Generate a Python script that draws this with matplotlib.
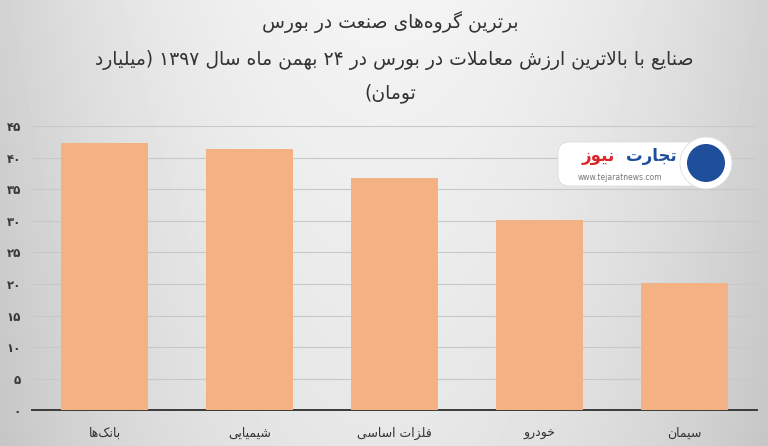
import re

import matplotlib.pyplot as plt
import numpy as np
from matplotlib.patches import Circle, FancyBboxPatch

# data (billion toman)
categories = ["بانک‌ها", "شیمیایی", "فلزات اساسی", "خودرو", "سیمان"]
values = [42.4, 41.4, 36.8, 30.2, 20.2]
yticks = [0, 5, 10, 15, 20, 25, 30, 35, 40, 45]

title = "برترین گروه‌های صنعت در بورس"
subtitle_1 = "صنایع با بالاترین ارزش معاملات در بورس در ۲۴ بهمن ماه سال ۱۳۹۷ (میلیارد"
subtitle_2 = "تومان)"

# minimal Arabic/Persian shaping: (isolated, final, initial, medial)
FORMS = {
    "ا": ("\uFE8D", "\uFE8E", None, None),
    "ب": ("\uFE8F", "\uFE90", "\uFE91", "\uFE92"),
    "ت": ("\uFE95", "\uFE96", "\uFE97", "\uFE98"),
    "ج": ("\uFE9D", "\uFE9E", "\uFE9F", "\uFEA0"),
    "خ": ("\uFEA5", "\uFEA6", "\uFEA7", "\uFEA8"),
    "د": ("\uFEA9", "\uFEAA", None, None),
    "ر": ("\uFEAD", "\uFEAE", None, None),
    "ز": ("\uFEAF", "\uFEB0", None, None),
    "س": ("\uFEB1", "\uFEB2", "\uFEB3", "\uFEB4"),
    "ش": ("\uFEB5", "\uFEB6", "\uFEB7", "\uFEB8"),
    "ص": ("\uFEB9", "\uFEBA", "\uFEBB", "\uFEBC"),
    "ع": ("\uFEC9", "\uFECA", "\uFECB", "\uFECC"),
    "ف": ("\uFED1", "\uFED2", "\uFED3", "\uFED4"),
    "ل": ("\uFEDD", "\uFEDE", "\uFEDF", "\uFEE0"),
    "م": ("\uFEE1", "\uFEE2", "\uFEE3", "\uFEE4"),
    "ن": ("\uFEE5", "\uFEE6", "\uFEE7", "\uFEE8"),
    "ه": ("\uFEE9", "\uFEEA", "\uFEEB", "\uFEEC"),
    "و": ("\uFEED", "\uFEEE", None, None),
    "ک": ("\uFB8E", "\uFB8F", "\uFB90", "\uFB91"),
    "گ": ("\uFB92", "\uFB93", "\uFB94", "\uFB95"),
    "ی": ("\uFBFC", "\uFBFD", "\uFBFE", "\uFBFF"),
}


def dual(c):
    return c in FORMS and FORMS[c][2] is not None


def shape(text):
    out = []
    i = 0
    n = len(text)
    while i < n:
        c = text[i]
        prev = text[i - 1] if i > 0 else ""
        nxt = text[i + 1] if i + 1 < n else ""
        if c not in FORMS:
            if c != "\u200c":
                out.append(c)
            i += 1
            continue
        jp = dual(prev)
        if c == "ل" and nxt == "ا":
            out.append("\uFEFC" if jp else "\uFEFB")
            i += 2
            continue
        jn = dual(c) and nxt in FORMS
        iso, fin, ini, med = FORMS[c]
        if jp and jn:
            out.append(med)
        elif jn:
            out.append(ini)
        elif jp:
            out.append(fin)
        else:
            out.append(iso)
        i += 1
    return "".join(out)


def fa(text):
    s = shape(text)
    mirror = str.maketrans("()", ")(")
    runs = re.findall(r"[0-9۰-۹]+|[^0-9۰-۹]+", s)
    return "".join(r if r[0].isdigit() else r[::-1].translate(mirror) for r in reversed(runs))


def fa_num(n):
    return str(n).translate(str.maketrans("0123456789", "۰۱۲۳۴۵۶۷۸۹"))


plt.rcParams["font.family"] = ["DejaVu Sans"]

fig = plt.figure(figsize=(7.68, 4.46), dpi=100)

# grey background, lighter in the middle
bg = fig.add_axes([0, 0, 1, 1], zorder=-10)
yy, xx = np.mgrid[0:1:446j, 0:1:768j]
shade = 0.955 - 0.13 * ((xx - 0.5) / 0.5) ** 2 - 0.05 * yy
bg.imshow(shade, cmap="gray", vmin=0, vmax=1, aspect="auto", extent=[0, 1, 0, 1], origin="upper")
bg.set_axis_off()

ax = fig.add_axes([0.0417, 0.0807, 0.944, 0.6357])
ax.set_facecolor("none")
x = np.arange(len(categories))
ax.bar(x, values, width=0.6, color="#F4B183", zorder=3)
ax.set_xlim(-0.5, len(categories) - 0.5)
ax.set_ylim(0, 45)
ax.set_yticks(yticks)
ax.set_yticklabels([fa_num(v) for v in yticks], fontsize=8.5, fontweight="bold", color="#383838")
ax.set_xticks(x)
ax.set_xticklabels([fa(c) for c in categories], fontsize=9, color="#333333")
ax.tick_params(length=0, pad=8)
ax.tick_params(axis="x", pad=12)
ax.grid(axis="y", color="#c8c8c8", linewidth=0.8, zorder=0)
for side in ["top", "right", "left"]:
    ax.spines[side].set_visible(False)
ax.spines["bottom"].set_color("#3a3a3a")
ax.spines["bottom"].set_linewidth(1.4)

fig.text(0.508, 0.950, fa(title), ha="center", va="center", fontsize=13.5, color="#333333")
fig.text(0.513, 0.865, fa(subtitle_1), ha="center", va="center", fontsize=13.5, color="#333333")
fig.text(0.508, 0.792, fa(subtitle_2), ha="center", va="center", fontsize=13.5, color="#333333")

# logo badge
lx = fig.add_axes([0, 0, 1, 1], zorder=5)
lx.set_xlim(0, 768)
lx.set_ylim(446, 0)
lx.set_axis_off()
lx.add_patch(FancyBboxPatch((558, 142), 146, 44, boxstyle="round,pad=0,rounding_size=12",
                            facecolor="white", edgecolor="#dddddd", linewidth=0.6))
lx.add_patch(Circle((706, 163), 26, facecolor="white", edgecolor="#dddddd", linewidth=0.6))
lx.add_patch(Circle((706, 163), 19, facecolor="#1f4e9a", edgecolor="none"))
lx.text(651, 156, fa("تجارت"), ha="center", va="center", fontsize=12, fontweight="bold", color="#1f4e9a")
lx.text(598, 156, fa("نیوز"), ha="center", va="center", fontsize=12, fontweight="bold", color="#d9262b")
lx.text(620, 178, "www.tejaratnews.com", ha="center", va="center", fontsize=5.5, color="#777777")

fig.savefig("out.png", dpi=100)
